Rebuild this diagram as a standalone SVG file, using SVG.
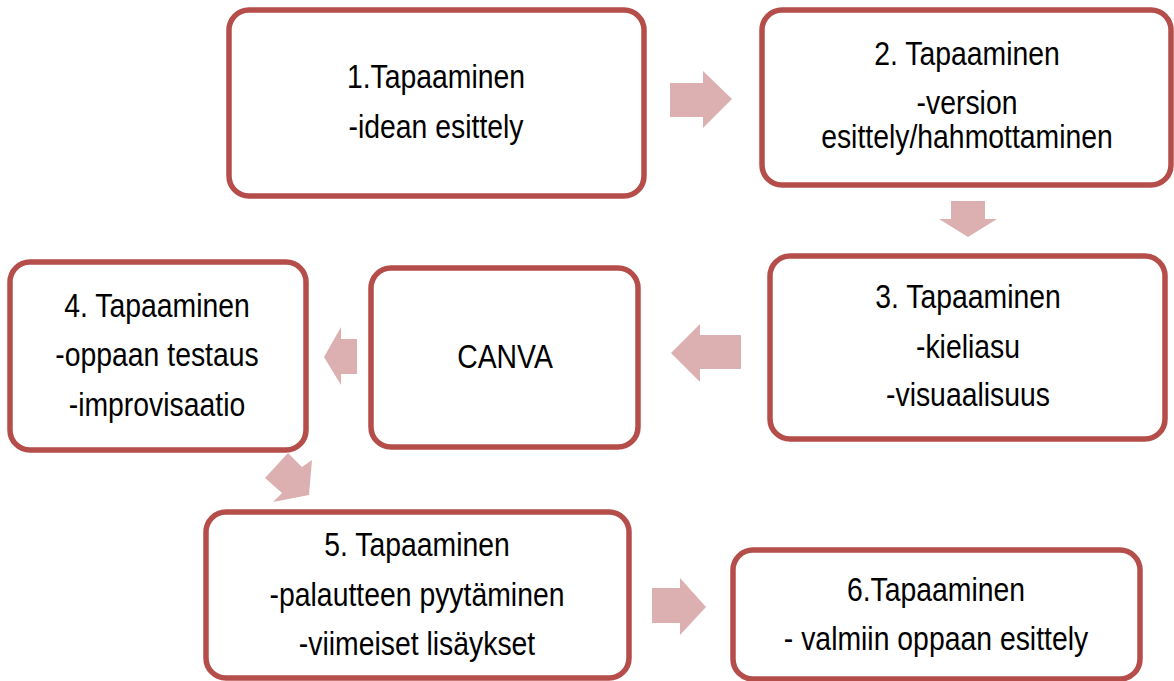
<svg xmlns="http://www.w3.org/2000/svg" width="1174" height="681" viewBox="0 0 1174 681">
<style>
.box{fill:#fff;stroke:#B54E4A;stroke-width:5.5}
.arr{fill:#DCB0B0}
.t{font-family:"Liberation Sans",Arial,sans-serif;font-size:33px;fill:#000;text-anchor:middle}
</style>
<rect width="1174" height="681" fill="#fff"/>
<g id="connectors">
<polygon class="arr" points="670,83 703,83 703,71 732,99 703,128 703,117 670,117"/>
<polygon class="arr" points="951,201 985,201 985,219 997,219 968,237 939,219 951,219"/>
<polygon class="arr" points="741,335 700,335 700,324 671,353 700,382 700,369 741,369"/>
<polygon class="arr" points="357,339 341,339 341,327 324,357 341,385 341,374 357,374"/>
<polygon class="arr" points="288,453 302,467 312,460 309,495 273,502 282,493 265,478"/>
<polygon class="arr" points="652,588 680,588 680,578 706,607 680,635 680,623 652,623"/>
</g>
<g id="node1"><rect class="box" x="229" y="10" width="415" height="186" rx="20"/>
<text class="t" transform="translate(436 0) scale(0.86 1)"><tspan x="0" y="88">1.Tapaaminen</tspan><tspan x="0" y="138">-idean esittely</tspan></text></g>
<g id="node2"><rect class="box" x="762" y="10" width="409" height="175" rx="20"/>
<text class="t" transform="translate(967 0) scale(0.86 1)"><tspan x="0" y="65">2. Tapaaminen</tspan><tspan x="0" y="114">-version</tspan><tspan x="0" y="148">esittely/hahmottaminen</tspan></text></g>
<g id="node3"><rect class="box" x="770" y="256" width="395" height="183" rx="20"/>
<text class="t" transform="translate(968 0) scale(0.86 1)"><tspan x="0" y="308">3. Tapaaminen</tspan><tspan x="0" y="358">-kieliasu</tspan><tspan x="0" y="406">-visuaalisuus</tspan></text></g>
<g id="canva"><rect class="box" x="371" y="268" width="267" height="179" rx="20"/>
<text class="t" transform="translate(505 0) scale(0.86 1)"><tspan x="0" y="368">CANVA</tspan></text></g>
<g id="node4"><rect class="box" x="10" y="262" width="296" height="188" rx="20"/>
<text class="t" transform="translate(157 0) scale(0.86 1)"><tspan x="0" y="317">4. Tapaaminen</tspan><tspan x="0" y="366">-oppaan testaus</tspan><tspan x="0" y="416">-improvisaatio</tspan></text></g>
<g id="node5"><rect class="box" x="206" y="512" width="423" height="166" rx="20"/>
<text class="t" transform="translate(417 0) scale(0.86 1)"><tspan x="0" y="556">5. Tapaaminen</tspan><tspan x="0" y="606">-palautteen pyytäminen</tspan><tspan x="0" y="655">-viimeiset lisäykset</tspan></text></g>
<g id="node6"><rect class="box" x="733" y="550" width="407" height="129" rx="20"/>
<text class="t" transform="translate(936 0) scale(0.86 1)"><tspan x="0" y="601">6.Tapaaminen</tspan><tspan x="0" y="650">- valmiin oppaan esittely</tspan></text></g>
</svg>
